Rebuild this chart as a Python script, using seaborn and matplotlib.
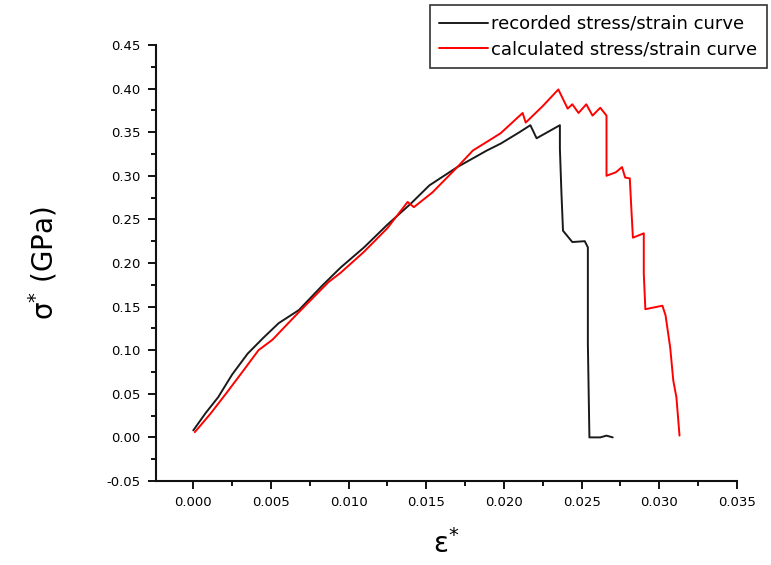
import numpy as np
import pandas as pd
import matplotlib
matplotlib.use("Agg")
import matplotlib.pyplot as plt
from matplotlib.ticker import MultipleLocator, FormatStrFormatter
import seaborn as sns

# recorded curve (strain, stress in GPa)
rec_strain = [0.0, 0.0008, 0.0016, 0.0025, 0.0035, 0.0045, 0.0055, 0.0068, 0.0083, 0.0095,
              0.0110, 0.0125, 0.0140, 0.0152, 0.0170, 0.0189, 0.0198, 0.0210, 0.0217,
              0.0221, 0.0228, 0.0236, 0.0236, 0.0237, 0.0238, 0.0244, 0.0252, 0.0254,
              0.0254, 0.0255, 0.0262, 0.0266, 0.0270]
rec_stress = [0.008, 0.028, 0.046, 0.072, 0.096, 0.114, 0.131, 0.146, 0.174, 0.195,
              0.218, 0.244, 0.268, 0.289, 0.310, 0.329, 0.337, 0.350, 0.358,
              0.343, 0.350, 0.358, 0.331, 0.280, 0.237, 0.224, 0.225, 0.218,
              0.108, 0.000, 0.000, 0.002, 0.000]

# calculated curve
calc_strain = [0.0001, 0.0011, 0.0021, 0.0032, 0.0042, 0.0051, 0.0066, 0.0087, 0.0095,
               0.0110, 0.0125, 0.0138, 0.0142, 0.0154, 0.0170, 0.0180, 0.0190, 0.0198,
               0.0212, 0.0214, 0.0225, 0.0235, 0.0241, 0.0244, 0.0248, 0.0253, 0.0257,
               0.0262, 0.0266, 0.0266, 0.0272, 0.0276, 0.0278, 0.0281, 0.0282, 0.0283,
               0.0290, 0.0290, 0.0291, 0.0302, 0.0304, 0.0307, 0.0309, 0.0311, 0.0313]
calc_stress = [0.006, 0.027, 0.050, 0.076, 0.100, 0.112, 0.140, 0.178, 0.189,
               0.213, 0.240, 0.270, 0.264, 0.281, 0.310, 0.329, 0.340, 0.349,
               0.372, 0.361, 0.380, 0.399, 0.377, 0.382, 0.372, 0.382, 0.369,
               0.378, 0.369, 0.300, 0.304, 0.310, 0.298, 0.297, 0.262, 0.229,
               0.234, 0.188, 0.147, 0.151, 0.140, 0.103, 0.065, 0.046, 0.002]

labels = ["recorded stress/strain curve", "calculated stress/strain curve"]
colors = ["#1a1a1a", "#ff0000"]

curves = [(rec_strain, rec_stress), (calc_strain, calc_stress)]

sns.set_style("ticks")
plt.rcParams["font.family"] = ["DejaVu Sans"]
plt.rcParams["mathtext.fontset"] = "dejavusans"
plt.rcParams["text.color"] = "black"
plt.rcParams["xtick.color"] = "black"
plt.rcParams["ytick.color"] = "black"

fig = plt.figure(figsize=(7.71, 5.65), dpi=100)
ax = fig.add_axes([0.2023, 0.1487, 0.7536, 0.7717])

for (xs, ys), name, c in zip(curves, labels, colors):
    sns.lineplot(x=xs, y=ys, sort=False, estimator=None, color=c,
                 linewidth=1.4, ax=ax, label=name)

ax.set_xlim(-0.0024, 0.035)
ax.set_ylim(-0.05, 0.45)
ax.xaxis.set_major_locator(MultipleLocator(0.005))
ax.xaxis.set_minor_locator(MultipleLocator(0.0025))
ax.yaxis.set_major_locator(MultipleLocator(0.05))
ax.yaxis.set_minor_locator(MultipleLocator(0.025))
ax.xaxis.set_major_formatter(FormatStrFormatter("%.3f"))
ax.yaxis.set_major_formatter(FormatStrFormatter("%.2f"))
ax.tick_params(which="major", direction="out", length=6, width=1.3, labelsize=9.5, pad=5)
ax.tick_params(which="minor", direction="out", length=3.5, width=1.3)
sns.despine(ax=ax)
for s in ["left", "bottom"]:
    ax.spines[s].set_linewidth(1.5)
    ax.spines[s].set_color("#111111")

ax.set_xlabel("ε$^{*}$", fontsize=20, labelpad=14, color="black")
ax.set_ylabel("σ$^{*}$ (GPa)", fontsize=20, labelpad=34, color="black")

leg = ax.legend(loc="upper right", bbox_to_anchor=(767 / 771, 1 - 5 / 565),
                bbox_transform=fig.transFigure, frameon=True, fancybox=False,
                fontsize=13, handlelength=2.7, handletextpad=0.15, borderpad=0.55,
                labelspacing=0.4, borderaxespad=0)
leg.get_frame().set_edgecolor("black")
leg.get_frame().set_linewidth(1.2)
for t in leg.get_texts():
    t.set_color("black")

fig.savefig("out.png", dpi=100)
